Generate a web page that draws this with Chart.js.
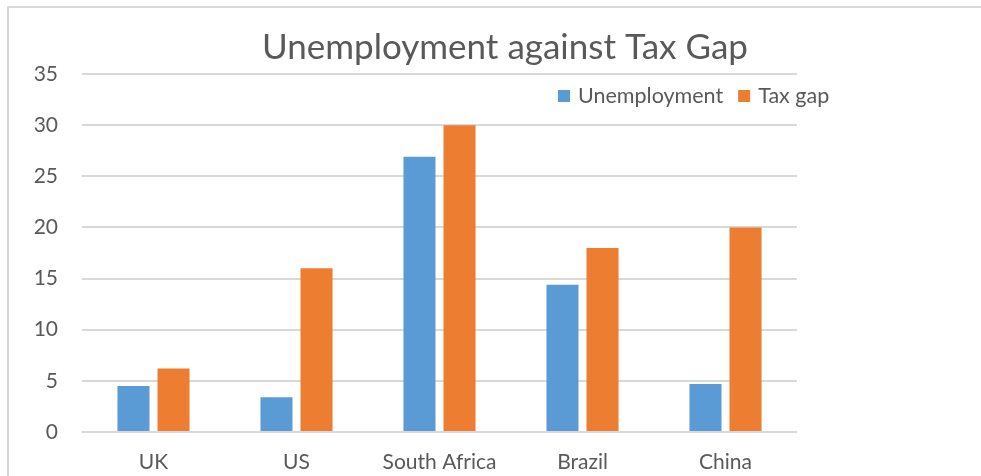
<!DOCTYPE html>
<html>
<head>
<meta charset="utf-8">
<style>
  html, body { margin: 0; padding: 0; background: #ffffff; }
  #wrap { width: 981px; height: 476px; position: relative; }
</style>
<script src="https://cdn.jsdelivr.net/npm/chart.js@4.4.1/dist/chart.umd.min.js"></script>
</head>
<body>
<div id="wrap"><canvas id="chart" width="981" height="476"></canvas></div>
<script>
const countries = ['UK', 'US', 'South Africa', 'Brazil', 'China'];
const unemployment = [4.5, 3.4, 26.9, 14.4, 4.7];
const taxGap = [6.2, 16, 30, 18, 20];
const yTicks = [0, 5, 10, 15, 20, 25, 30, 35];
const chartTitle = 'Unemployment against Tax Gap';

const FONT = 'Lato, "Open Sans", sans-serif';
const TEXT = '#595959';
const GRID = '#d9d9d9';

// Frame, title and legend drawn on the canvas around the plot
const decorations = {
  id: 'decorations',
  beforeDraw(chart) {
    const ctx = chart.ctx;
    ctx.save();
    ctx.fillStyle = '#ffffff';
    ctx.fillRect(0, 0, chart.width, chart.height);
    ctx.strokeStyle = GRID;
    ctx.lineWidth = 2;
    ctx.strokeRect(8, 7, chart.width + 20, chart.height + 20);
    ctx.restore();
  },
  afterDraw(chart) {
    const ctx = chart.ctx;
    ctx.save();
    ctx.fillStyle = TEXT;
    ctx.font = '35px ' + FONT;
    ctx.textAlign = 'center';
    ctx.textBaseline = 'alphabetic';
    ctx.fillText(chartTitle, 505, 59);

    // legend
    ctx.font = '21.5px ' + FONT;
    ctx.textAlign = 'left';
    ctx.textBaseline = 'middle';
    let x = 558;
    const y = 96;
    chart.data.datasets.forEach(ds => {
      ctx.fillStyle = ds.backgroundColor;
      ctx.fillRect(x, y - 6, 12, 12);
      ctx.fillStyle = TEXT;
      ctx.fillText(ds.label, x + 20, y);
      x += 20 + ctx.measureText(ds.label).width + 15;
    });
    ctx.restore();
  }
};

new Chart(document.getElementById('chart'), {
  type: 'bar',
  data: {
    labels: countries,
    datasets: [
      { label: 'Unemployment', data: unemployment, backgroundColor: '#5B9BD5' },
      { label: 'Tax gap', data: taxGap, backgroundColor: '#ED7D31' }
    ]
  },
  options: {
    responsive: false,
    animation: false,
    layout: { padding: { top: 74, right: 184, bottom: 0, left: 0 } },
    categoryPercentage: 0.56,
    barPercentage: 0.8,
    plugins: {
      legend: { display: false },
      title: { display: false },
      tooltip: { enabled: false }
    },
    scales: {
      x: {
        grid: { display: false, drawTicks: false },
        border: { display: false },
        ticks: { color: TEXT, font: { family: FONT, size: 21 }, padding: 18 },
        afterFit(scale) { scale.height = 44; }
      },
      y: {
        min: 0,
        max: 35,
        afterBuildTicks(scale) { scale.ticks = yTicks.map(v => ({ value: v })); },
        grid: { color: GRID, lineWidth: 2, drawTicks: false },
        border: { display: false },
        ticks: { color: TEXT, font: { family: FONT, size: 21 }, padding: 24 },
        afterFit(scale) { scale.width = 82; }
      }
    }
  },
  plugins: [decorations]
});
</script>
</body>
</html>
